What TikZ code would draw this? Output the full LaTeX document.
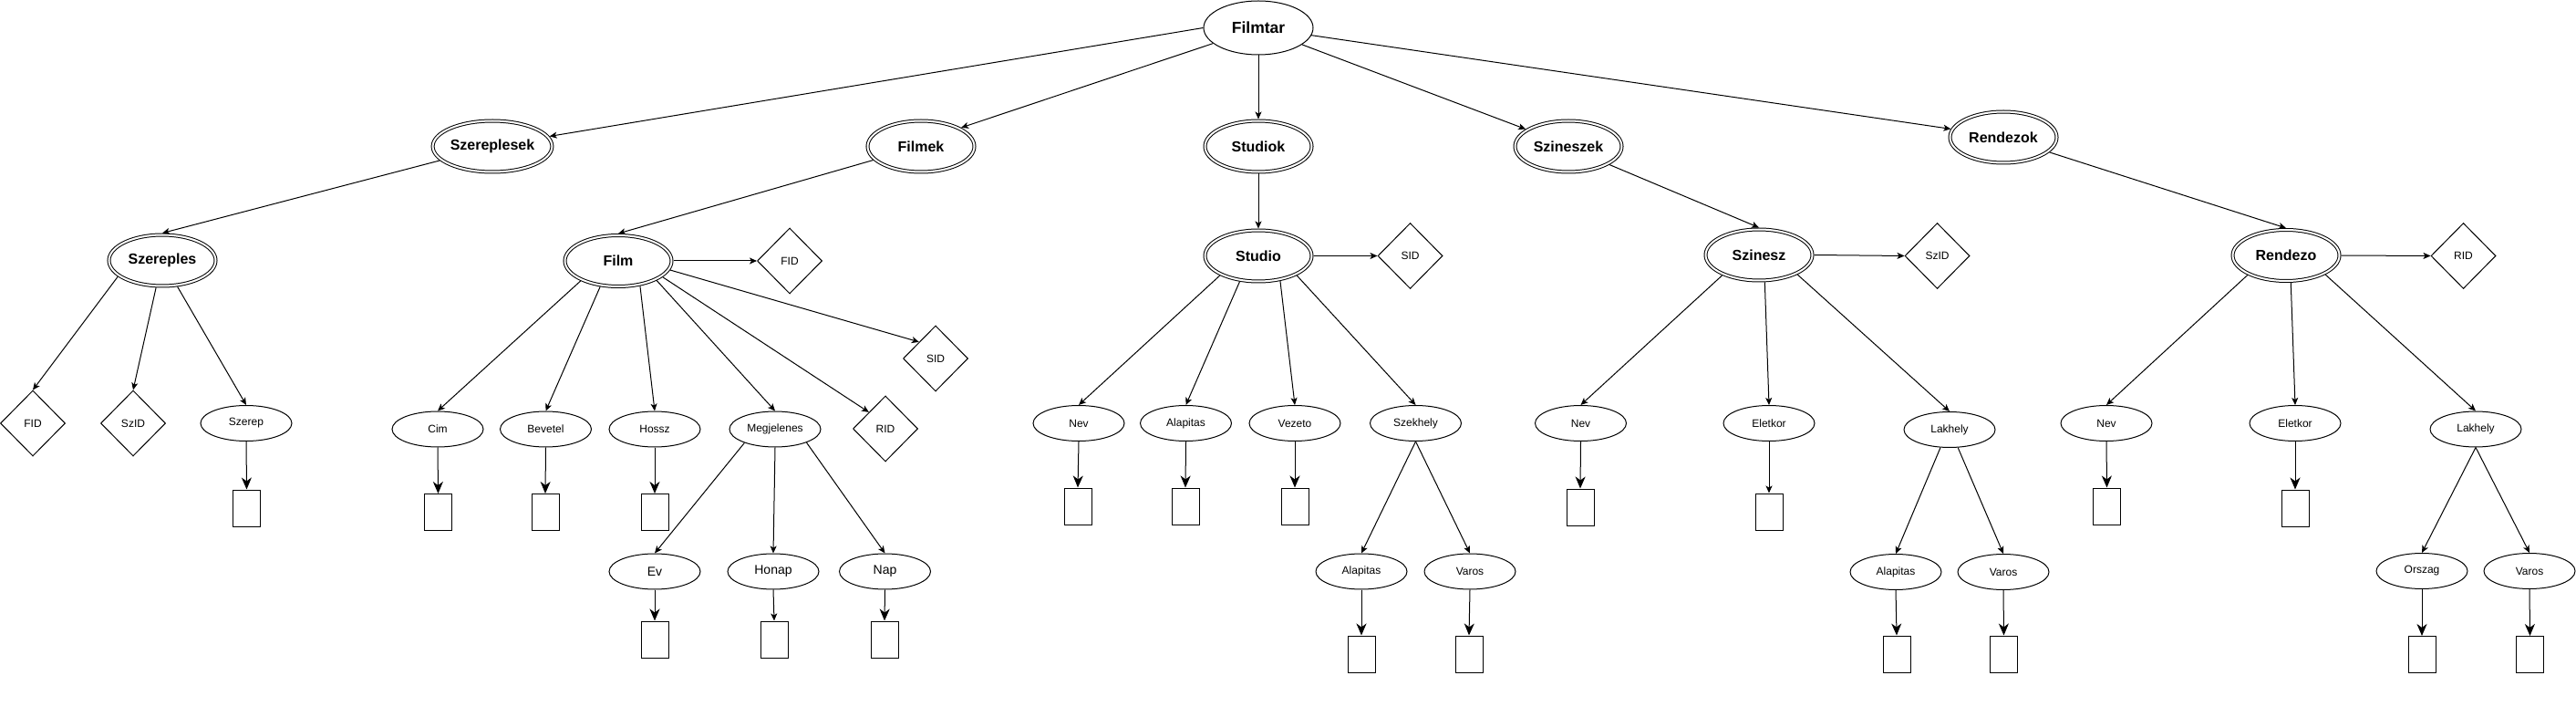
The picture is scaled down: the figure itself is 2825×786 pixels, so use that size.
\documentclass[tikz,border=0pt]{standalone}
\usepackage{fontspec}
\setmainfont{Liberation Sans}
\usetikzlibrary{shapes.geometric,arrows.meta}
\tikzset{
  ent/.style={ellipse, draw, double, double distance=2pt, minimum width=117pt, minimum height=56pt, inner sep=0pt, outer sep=2pt, font=\fontsize{16}{19}\selectfont\bfseries},
  rootn/.style={ellipse, draw, minimum width=120pt, minimum height=59pt, inner sep=0pt, font=\fontsize{17.5}{20}\selectfont\bfseries},
  attr/.style={ellipse, draw, minimum width=100pt, minimum height=39pt, inner sep=0pt, font=\fontsize{12}{14}\selectfont},
  attrb/.style={attr, font=\fontsize{14}{16}\selectfont},
  keyd/.style={diamond, draw, minimum width=71pt, minimum height=72pt, inner sep=0pt, font=\fontsize{12}{14}\selectfont},
  valbox/.style={rectangle, draw, minimum width=30pt, minimum height=40pt, inner sep=0pt},
  conn/.style={-{Stealth[length=8pt,width=7pt,inset=2pt]}},
  bigconn/.style={-{Stealth[length=13pt,width=11pt,inset=4pt]}},
}
\begin{document}
\begin{tikzpicture}[x=1pt,y=-1pt,line width=1pt]
\useasboundingbox[fill=white] (0,0) rectangle (2825,786);
% level 0 and 1
\node[rootn] (filmtar) at (1380,30.5) {Filmtar};
\node[ent] (szereplesek) at (540,160.5) {Szereplesek};
\node[ent] (filmek) at (1010,160.5) {Filmek};
\node[ent] (studiok) at (1380,160.5) {Studiok};
\node[ent] (szineszek) at (1720,160.5) {Szineszek};
\node[ent] (rendezok) at (2197,150.5) {Rendezok};
% level 2
\node[ent] (szereples) at (178,285.5) {Szereples};
\node[ent] (film) at (678,286) {Film};
\node[keyd] (fid1) at (866,286) {FID};
\node[keyd] (sid1) at (1026,393) {SID};
\node[keyd] (rid1) at (971,470) {RID};
\node[ent] (studio) at (1380,280.5) {Studio};
\node[keyd] (sid2) at (1546.5,280.5) {SID};
\node[ent] (szinesz) at (1929,279.5) {Szinesz};
\node[keyd] (szid2) at (2124.5,280.5) {SzID};
\node[ent] (rendezo) at (2507,280) {Rendezo};
\node[keyd] (rid2) at (2701.5,280.5) {RID};
% level 3
\node[keyd] (fid0) at (36,464) {FID};
\node[keyd] (szid0) at (146,464) {SzID};
\node[attr] (szerep) at (270,464) {Szerep};
\node[attr] (cim) at (480,470.5) {Cim};
\node[attr] (bevetel) at (598.5,470.5) {Bevetel};
\node[attr] (hossz) at (718,470.5) {Hossz};
\node[attr] (megj) at (850,470.5) {Megjelenes};
\node[attr] (nev1) at (1183,464) {Nev};
\node[attr] (alap1) at (1300.5,464) {Alapitas};
\node[attr] (vez) at (1420,464) {Vezeto};
\node[attr] (szekh) at (1552.5,464) {Szekhely};
\node[attr] (nev2) at (1733.5,464) {Nev};
\node[attr] (elet2) at (1940,464) {Eletkor};
\node[attr] (lak2) at (2138,471) {Lakhely};
\node[attr] (nev3) at (2310,464) {Nev};
\node[attr] (elet3) at (2517,464) {Eletkor};
\node[attr] (lak3) at (2715,470.5) {Lakhely};
% boxes level 3
\node[valbox] (bszerep) at (270.5,557) {};
\node[valbox] (bcim) at (480.5,561.5) {};
\node[valbox] (bbev) at (598,561.5) {};
\node[valbox] (bhossz) at (718,561.5) {};
\node[valbox] (bnev1) at (1182,555) {};
\node[valbox] (balap1) at (1300,555) {};
\node[valbox] (bvez) at (1420,555) {};
\node[valbox] (bnev2) at (1733,556) {};
\node[valbox] (belet2) at (1940,561) {};
\node[valbox] (bnev3) at (2310.5,555) {};
\node[valbox] (belet3) at (2517,557) {};
% level 4
\node[attrb] (ev) at (718,626.5) {Ev};
\node[attrb] (honap) at (848,626.5) {Honap};
\node[attrb] (nap) at (970.5,626.5) {Nap};
\node[attr] (alap1b) at (1493,626.5) {Alapitas};
\node[attr] (varos1) at (1612,626.5) {Varos};
\node[attr] (alap2) at (2079,627) {Alapitas};
\node[attr] (varos2) at (2197,627) {Varos};
\node[attr] (orszag) at (2656,626) {Orszag};
\node[attr] (varos3) at (2774,626) {Varos};
% boxes level 4
\node[valbox] (bev) at (718,701) {};
\node[valbox] (bhonap) at (849,701) {};
\node[valbox] (bnap) at (970,701) {};
\node[valbox] (balap1b) at (1493,717) {};
\node[valbox] (bvaros1) at (1611,717) {};
\node[valbox] (balap2) at (2080,717) {};
\node[valbox] (bvaros2) at (2197.5,717) {};
\node[valbox] (borszag) at (2656,717.5) {};
\node[valbox] (bvaros3) at (2774.5,717.5) {};
% connectors from root
\draw[conn] (filmtar.180) -- (szereplesek.10);
\draw[conn] (filmtar.199) -- (filmek.25);
\draw[conn] (filmtar.south) -- (studiok.north);
\draw[conn] (filmtar.339) -- (szineszek.158);
\draw[conn] (filmtar.352) -- (rendezok.171);
% level 1 -> 2
\draw[conn] (szereplesek.195) -- (szereples.north);
\draw[conn] (filmek.196) -- (film.north);
\draw[conn] (studiok.south) -- (studio.north);
\draw[conn] (szineszek.336) -- (szinesz.north);
\draw[conn] (rendezok.342) -- (rendezo.north);
% Szereples
\draw[conn] (szereples.200) -- (fid0.north);
\draw[conn] (szereples.257) -- (szid0.north);
\draw[conn] (szereples.300) -- (szerep.north);
% Film
\draw[conn] (film.east) -- (fid1.west);
\draw[conn] (film.350) -- (sid1.135);
\draw[conn] (film.340) -- (rid1.135);
\draw[conn] (film.208) -- (cim.north);
\draw[conn] (film.235) -- (bevetel.north);
\draw[conn] (film.311) -- (hossz.north);
\draw[conn] (film.333) -- (megj.north);
\draw[conn] (megj.204) -- (ev.north);
\draw[conn] (megj.south) -- (honap.north);
\draw[conn] (megj.337) -- (nap.north);
% Studio
\draw[conn] (studio.east) -- (sid2.west);
\draw[conn] (studio.207) -- (nev1.north);
\draw[conn] (studio.234) -- (alap1.north);
\draw[conn] (studio.311) -- (vez.north);
\draw[conn] (studio.333) -- (szekh.north);
\draw[conn] (szekh.south) -- (alap1b.north);
\draw[conn] (szekh.south) -- (varos1.north);
% Szinesz
\draw[conn] (szinesz.east) -- (szid2.west);
\draw[conn] (szinesz.209) -- (nev2.north);
\draw[conn] (szinesz.282) -- (elet2.north);
\draw[conn] (szinesz.333) -- (lak2.north);
\draw[conn] (lak2.243) -- (alap2.north);
\draw[conn] (lak2.295) -- (varos2.north);
% Rendezo
\draw[conn] (rendezo.east) -- (rid2.west);
\draw[conn] (rendezo.207) -- (nev3.north);
\draw[conn] (rendezo.280) -- (elet3.north);
\draw[conn] (rendezo.334) -- (lak3.north);
\draw[conn] (lak3.south) -- (orszag.north);
\draw[conn] (lak3.south) -- (varos3.north);
% attribute -> value boxes
\draw[bigconn] (szerep.south) -- (bszerep.north);
\draw[bigconn] (cim.south) -- (bcim.north);
\draw[bigconn] (bevetel.south) -- (bbev.north);
\draw[bigconn] (hossz.south) -- (bhossz.north);
\draw[bigconn] (ev.south) -- (bev.north);
\draw[conn] (honap.south) -- (bhonap.north);
\draw[bigconn] (nap.south) -- (bnap.north);
\draw[bigconn] (nev1.south) -- (bnev1.north);
\draw[bigconn] (alap1.south) -- (balap1.north);
\draw[bigconn] (vez.south) -- (bvez.north);
\draw[bigconn] (alap1b.south) -- (balap1b.north);
\draw[bigconn] (varos1.south) -- (bvaros1.north);
\draw[bigconn] (nev2.south) -- (bnev2.north);
\draw[conn] (elet2.south) -- (belet2.north);
\draw[bigconn] (alap2.south) -- (balap2.north);
\draw[bigconn] (varos2.south) -- (bvaros2.north);
\draw[bigconn] (nev3.south) -- (bnev3.north);
\draw[bigconn] (elet3.south) -- (belet3.north);
\draw[bigconn] (orszag.south) -- (borszag.north);
\draw[bigconn] (varos3.south) -- (bvaros3.north);
\end{tikzpicture}
\end{document}
